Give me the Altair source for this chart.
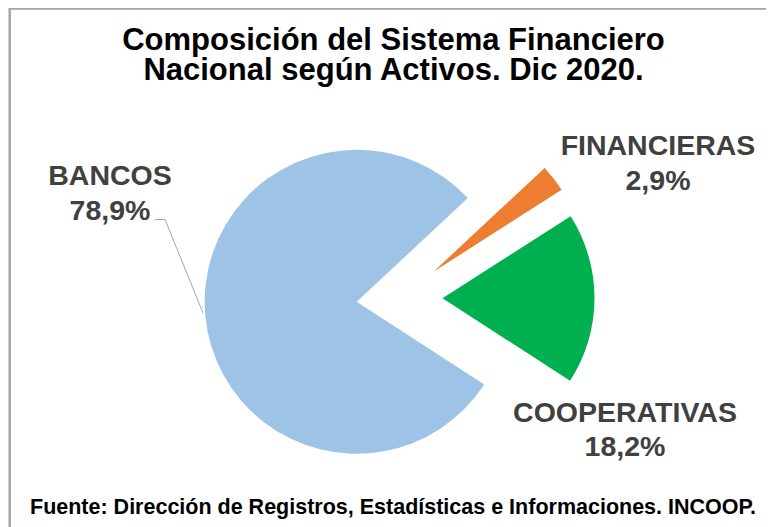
import math
import altair as alt
import pandas as pd

# ---- data ----
categories = ["FINANCIERAS", "COOPERATIVAS", "BANCOS"]
shares = [2.9, 18.2, 78.9]
pct_labels = ["2,9%", "18,2%", "78,9%"]
colors = ["#ED7D31", "#00B050", "#9DC3E6"]

title_lines = ["Composición del Sistema Financiero", "Nacional según Activos. Dic 2020."]
source_text = "Fuente: Dirección de Registros, Estadísticas e Informaciones. INCOOP."

# ---- layout / style ----
W, H = 758, 519
CX, CY, R, EXPLODE = 391.5, 290, 152, 43
START = 47 * math.pi / 180
FONT = "Liberation Sans"
LABEL_COLOR = "#404040"

df = pd.DataFrame({"cat": categories, "share": shares, "idx": list(range(len(categories)))})

base = (
    alt.Chart(df)
    .transform_window(cum="sum(share)", sort=[alt.SortField("idx")], frame=[None, 0])
    .transform_joinaggregate(total="sum(share)")
    .transform_calculate(t0=f"{START} + 2*PI*(datum.cum - datum.share)/datum.total")
    .transform_calculate(t1=f"{START} + 2*PI*datum.cum/datum.total")
    .transform_calculate(mid="(datum.t0 + datum.t1)/2")
    .transform_calculate(px=f"{CX} + {EXPLODE}*sin(datum.mid)")
    .transform_calculate(py=f"{CY} - {EXPLODE}*cos(datum.mid)")
)

pie = base.mark_arc(outerRadius=R).encode(
    theta=alt.Theta("t0:Q", scale=None),
    theta2="t1:Q",
    x=alt.X("px:Q", scale=None),
    y=alt.Y("py:Q", scale=None),
    color=alt.Color("cat:N", scale=alt.Scale(domain=categories, range=colors), legend=None),
)

one = alt.Chart(pd.DataFrame({"k": [0]}))

label_pos = {"BANCOS": (102, 177), "FINANCIERAS": (650, 147), "COOPERATIVAS": (617, 413.7)}
label_layers = []
for cat, pct in zip(categories, pct_labels):
    lx, ly = label_pos[cat]
    label_layers.append(
        one.mark_text(
            text=[cat, pct], font=FONT, fontSize=28.5, fontWeight="bold", color=LABEL_COLOR,
            align="center", baseline="alphabetic", lineHeight=34.5,
        ).encode(x=alt.value(lx), y=alt.value(ly))
    )

title_layers = []
for i, line in enumerate(title_lines):
    title_layers.append(
        one.mark_text(
            text=line, font=FONT, fontSize=31, fontWeight="bold", color="#000000",
            align="center", baseline="alphabetic",
        ).encode(x=alt.value(385.5), y=alt.value(41.5 + 30.5 * i))
    )

footer = one.mark_text(
    text=source_text, font=FONT, fontSize=21.5, fontWeight="bold", color="#000000",
    align="left", baseline="alphabetic",
).encode(x=alt.value(22), y=alt.value(505.7))

leader1 = one.mark_rule(color="#A6A6A6", strokeWidth=1).encode(
    x=alt.value(147), x2=alt.value(157), y=alt.value(211.5), y2=alt.value(211.5))
leader2 = one.mark_rule(color="#A6A6A6", strokeWidth=1).encode(
    x=alt.value(157), x2=alt.value(195), y=alt.value(211.5), y2=alt.value(305))

border_top = one.mark_rule(color="#A6A6A6", strokeWidth=2.5).encode(
    x=alt.value(1), x2=alt.value(W), y=alt.value(0.5), y2=alt.value(0.5))
border_left = one.mark_rule(color="#A6A6A6", strokeWidth=2.5).encode(
    x=alt.value(1.7), x2=alt.value(1.7), y=alt.value(0), y2=alt.value(H))

chart = (
    alt.layer(border_top, border_left, pie, leader1, leader2, *title_layers, footer, *label_layers)
    .properties(width=W, height=H, padding=0, autosize=alt.AutoSizeParams(type="none"))
    .configure_view(stroke=None)
)

chart.save("out.html", embed_options={"renderer": "svg", "actions": False})
